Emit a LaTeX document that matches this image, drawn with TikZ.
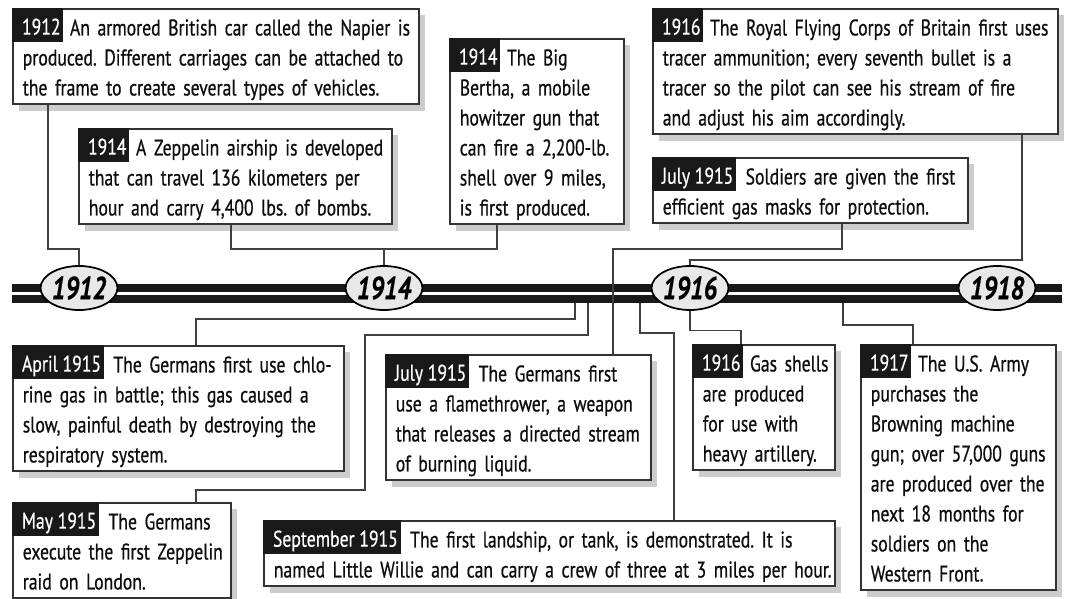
\documentclass[tikz,border=0pt]{standalone}
\usepackage{fontspec}
\setmainfont{PT Sans}[FakeStretch=0.78, FakeBold=0.6]
\usetikzlibrary{positioning, shapes.geometric, shadows, calc}
\newcommand{\tagspace}[1]{\hphantom{#1}\hspace{6.5pt}}
\frenchspacing

\begin{document}
\begin{tikzpicture}[x=0.75pt, y=-0.75pt,
    event/.style={draw=black!80, line width=1.2pt, fill=white, anchor=north west,
                  inner xsep=7.5pt, inner ysep=2pt, text=black!95,
                  font=\fontsize{17pt}{22.5pt}\selectfont,
                  drop shadow={shadow xshift=5pt, shadow yshift=-5pt, fill=black!20, opacity=1},
                  execute at begin node={\parindent=0pt\rightskip=-30pt plus 1fil\rule{0pt}{18pt}},
                  execute at end node={\rule[-4.5pt]{0pt}{4.5pt}}},
    yeartag/.style={anchor=north west, fill=black!90, text=white, outer sep=0pt,
                    inner xsep=0pt, inner ysep=2pt, text height=18pt, text depth=3.5pt,
                    font=\fontsize{17pt}{22.5pt}\selectfont,
                    execute at begin node=\hspace*{7.5pt}, execute at end node=\hspace*{2pt}},
    year/.style={ellipse, draw=black, line width=1.3pt, fill=black!9, inner sep=0pt,
                 minimum width=57pt, minimum height=33pt,
                 font=\fontsize{24pt}{24pt}\selectfont\bfseries\itshape},
    bar/.style={line width=6pt, black!90},
    link/.style={draw=black!75, line width=0.9pt}]
    \useasboundingbox (0,0) rectangle (1068,599);

    % the time line
    \draw[bar] (12,287.5) -- (1062,287.5);
    \draw[bar] (12,299) -- (1062,299);
    \node[year] (y1912) at (79,288) {1912};
    \node[year] (y1914) at (384,288) {1914};
    \node[year] (y1916) at (690,288) {1916};
    \node[year] (y1918) at (997,288) {1918};

    % events above the line
    \node[event, text width=289.5pt] (napier) at (12,8) {\tagspace{1912}An armored British car called the Napier is\\produced. Different carriages can be attached to\\the frame to create several types of vehicles.};
    \node[yeartag] (napier-tag) at (napier.north west) {1912};

    \node[event, text width=219.75pt] (zeppelin) at (78,128) {\tagspace{1914}A Zeppelin airship is developed\\that can travel 136 kilometers per\\hour and carry 4,400 lbs. of bombs.};
    \node[yeartag] (zeppelin-tag) at (zeppelin.north west) {1914};

    \node[event, text width=115.5pt] (bertha) at (449,38) {\tagspace{1914}The Big\\Bertha, a mobile\\howitzer gun that\\can fire a 2,200-lb.\\shell over 9 miles,\\is first produced.};
    \node[yeartag] (bertha-tag) at (bertha.north west) {1914};

    \node[event, text width=288.75pt] (tracer) at (652,8) {\tagspace{1916}The Royal Flying Corps of Britain first uses\\tracer ammunition; every seventh bullet is a\\tracer so the pilot can see his stream of fire\\and adjust his aim accordingly.};
    \node[yeartag] (tracer-tag) at (tracer.north west) {1916};

    \node[event, text width=221.25pt] (masks) at (652,157) {\tagspace{July 1915}Soldiers are given the first\\efficient gas masks for protection.};
    \node[yeartag] (masks-tag) at (masks.north west) {July 1915};

    % events below the line
    \node[event, text width=233.25pt] (chlorine) at (12,345) {\tagspace{April 1915}The Germans first use chlo-\\rine gas in battle; this gas caused a\\slow, painful death by destroying the\\respiratory system.};
    \node[yeartag] (chlorine-tag) at (chlorine.north west) {April 1915};

    \node[event, text width=183.75pt] (flame) at (385,354) {\tagspace{July 1915}The Germans first\\use a flamethrower, a weapon\\that releases a directed stream\\of burning liquid.};
    \node[yeartag] (flame-tag) at (flame.north west) {July 1915};

    \node[event, text width=91.5pt] (shells) at (692,344) {\tagspace{1916}Gas shells\\are produced\\for use with\\heavy artillery.};
    \node[yeartag] (shells-tag) at (shells.north west) {1916};

    \node[event, text width=131.25pt] (browning) at (860,344) {\tagspace{1917}The U.S. Army\\purchases the\\Browning machine\\gun; over 57,000 guns\\are produced over the\\next 18 months for\\soldiers on the\\Western Front.};
    \node[yeartag] (browning-tag) at (browning.north west) {1917};

    \node[event, text width=148.5pt] (raid) at (12,502) {\tagspace{May 1915}The Germans\\execute the first Zeppelin\\raid on London.};
    \node[yeartag] (raid-tag) at (raid.north west) {May 1915};

    \node[event, text width=413.25pt] (tank) at (263,520) {\tagspace{September 1915}The first landship, or tank, is demonstrated. It is\\named Little Willie and can carry a crew of three at 3 miles per hour.};
    \node[yeartag] (tank-tag) at (tank.north west) {September 1915};

    % connectors
    \coordinate (j1914) at (384,249);
    \coordinate (apr15) at (575,303);
    \coordinate (may15) at (588,303);
    \coordinate (sep15) at (640,303);
    \coordinate (jan17) at (843,303);

    \draw[link] ($(napier.south west)+(36,0)$) -- ++(0,144) -| (y1912);
    \draw[link] ($(zeppelin.south west)+(153,0)$) |- (j1914) -| ($(bertha.south west)+(48,0)$);
    \draw[link] (j1914) -- (y1914);
    \draw[link] ($(tracer.south west)+(370,0)$) -- ++(0,125) -| (y1916);
    \draw[link] ($(masks.south west)+(190,0)$) -- ++(0,25) -| ($(flame.north west)+(228,0)$);

    \draw[link] (apr15) -- ++(0,16) -| ($(chlorine.north west)+(184,0)$);
    \draw[link] (may15) -- ++(0,32) -| ++(-223,155) -| ($(raid.north west)+(184,0)$);
    \draw[link] (sep15) -- ++(0,30) -| ($(tank.north west)+(411,0)$);
    \draw[link] (y1916.south) -- ++(0,20) -| ($(shells.north west)+(49,0)$);
    \draw[link] (jan17) -- ++(0,22) -| ($(browning.north west)+(53,0)$);
\end{tikzpicture}
\end{document}
